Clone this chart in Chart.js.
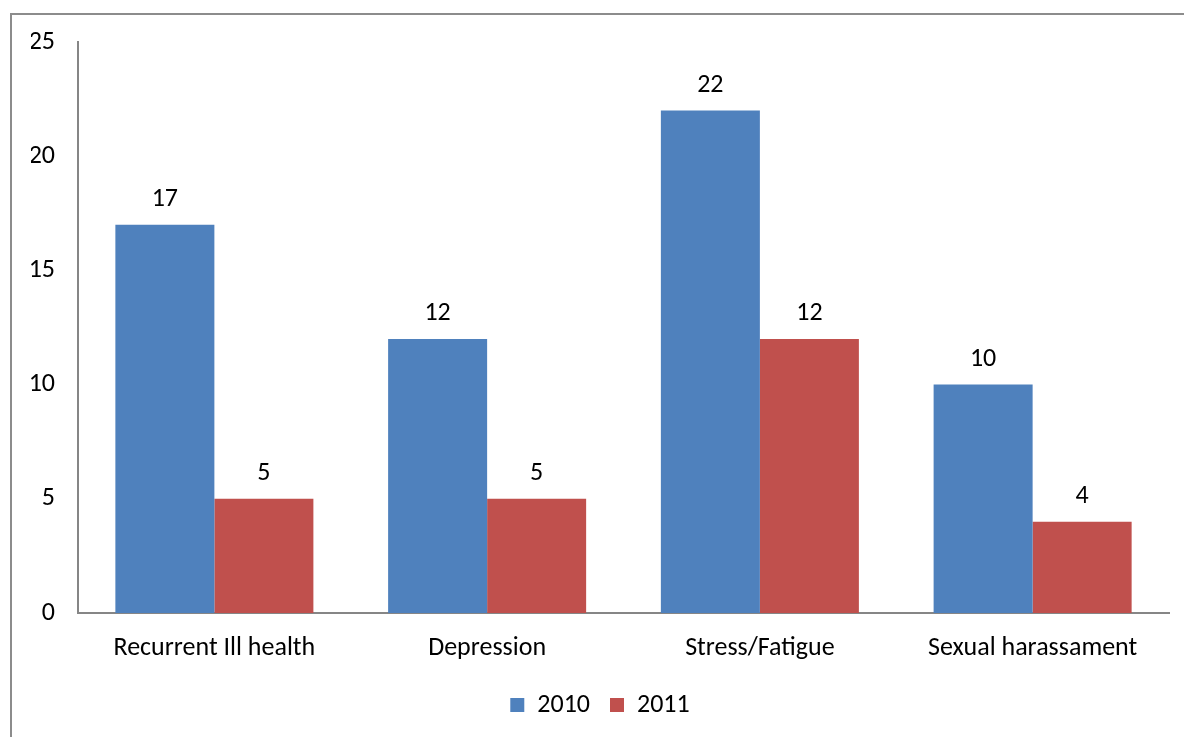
<!DOCTYPE html>
<html>
<head>
<meta charset="utf-8">
<script src="https://cdn.jsdelivr.net/npm/chart.js@4/dist/chart.umd.min.js"></script>
<style>
  html, body { margin: 0; padding: 0; background: #fff; overflow: hidden; }
  #frame {
    position: absolute; left: 10px; top: 13px; width: 1300px; height: 900px;
    border: 2px solid #8c8c8c; box-sizing: border-box;
  }
  #wrap { position: absolute; left: 0; top: 0; width: 1184px; height: 737px; }
</style>
</head>
<body>
<div id="frame"></div>
<div id="wrap"><canvas id="chart"></canvas></div>
<script>
const categories = ["Recurrent Ill health", "Depression", "Stress/Fatigue", "Sexual harassament"];
const values2010 = [17, 12, 22, 10];
const values2011 = [5, 5, 12, 4];
const yTicks = [0, 5, 10, 15, 20, 25];

const fontFamily = "Carlito, Lato, 'Open Sans', sans-serif";
const fontSize = 26;

// writes each bar's value just above it
const valueLabels = {
  id: 'valueLabels',
  afterDatasetsDraw(chart) {
    const ctx = chart.ctx;
    ctx.save();
    ctx.font = fontSize + "px " + fontFamily;
    ctx.fillStyle = "#000";
    ctx.textAlign = "center";
    ctx.textBaseline = "alphabetic";
    chart.data.datasets.forEach((ds, i) => {
      chart.getDatasetMeta(i).data.forEach((bar, j) => {
        ctx.fillText(ds.data[j], bar.x, bar.y - 19);
      });
    });
    ctx.restore();
  }
};

const ctx = document.getElementById('chart').getContext('2d');
new Chart(ctx, {
  type: 'bar',
  data: {
    labels: categories,
    datasets: [
      { label: '2010', data: values2010, backgroundColor: '#4F81BD' },
      { label: '2011', data: values2011, backgroundColor: '#C0504D' }
    ]
  },
  options: {
    responsive: true,
    maintainAspectRatio: false,
    animation: false,
    layout: { padding: { left: 31, top: 42, right: 15, bottom: 9 } },
    plugins: {
      tooltip: { enabled: false },
      legend: {
        position: 'bottom',
        labels: {
          font: { family: fontFamily, size: fontSize },
          color: '#000',
          boxWidth: 14,
          boxHeight: 14,
          padding: 20
        }
      }
    },
    datasets: { bar: { barPercentage: 1, categoryPercentage: 0.726 } },
    scales: {
      x: {
        grid: { display: false, drawTicks: false },
        border: { color: '#868686', width: 2 },
        ticks: { font: { family: fontFamily, size: fontSize }, color: '#000', padding: 20, maxRotation: 0 },
        afterFit: axis => { axis.height = 59; }
      },
      y: {
        min: 0,
        max: 25,
        afterBuildTicks: axis => { axis.ticks = yTicks.map(v => ({ value: v })); },
        grid: { display: false, drawTicks: false },
        border: { color: '#868686', width: 2 },
        ticks: { font: { family: fontFamily, size: fontSize }, color: '#000', padding: 23 },
        afterFit: axis => { axis.width = 47; }
      }
    }
  },
  plugins: [valueLabels]
});
</script>
</body>
</html>
